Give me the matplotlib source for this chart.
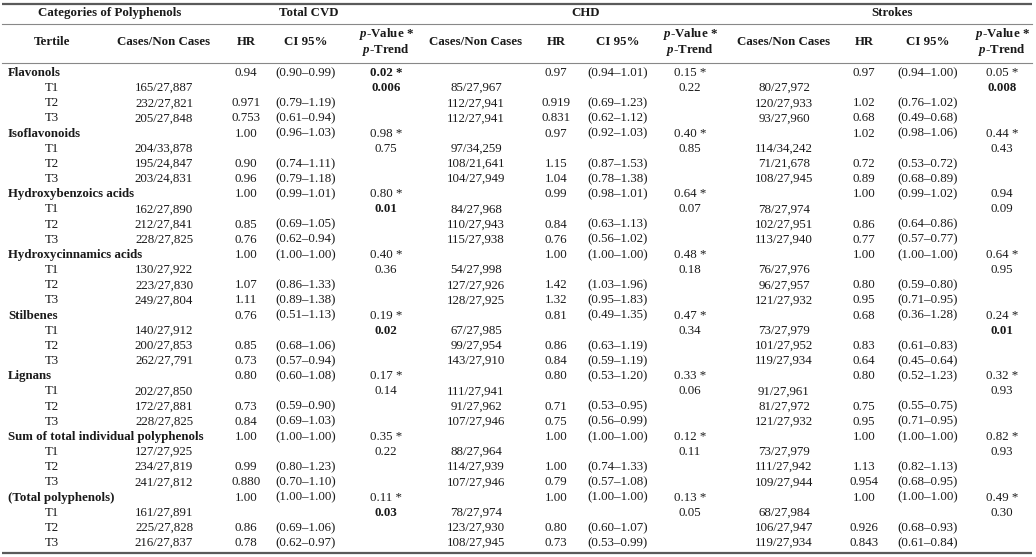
import matplotlib
matplotlib.use("Agg")
import matplotlib.pyplot as plt

plt.rcParams['font.family'] = ['Liberation Serif', 'DejaVu Serif']
plt.rcParams['mathtext.fontset'] = 'custom'
plt.rcParams['mathtext.rm'] = 'Liberation Serif'
plt.rcParams['mathtext.it'] = 'Liberation Serif:italic:bold'
plt.rcParams['mathtext.bf'] = 'Liberation Serif:bold'

# ---------------- data ----------------
categories = ["Flavonols", "Isoflavonoids", "Hydroxybenzoics acids",
              "Hydroxycinnamics acids", "Stilbenes", "Lignans",
              "Sum of total individual polyphenols", "(Total polyphenols)"]
tertiles = ["T1", "T2", "T3"]
outcomes = ["Total CVD", "CHD", "Strokes"]

# per outcome: overall HR, CI, p-value (per category)
cvd_hr_all = ["0.94", "1.00", "1.00", "1.00", "0.76", "0.80", "1.00", "1.00"]
cvd_ci_all = ["(0.90–0.99)", "(0.96–1.03)", "(0.99–1.01)", "(1.00–1.00)",
              "(0.51–1.13)", "(0.60–1.08)", "(1.00–1.00)", "(1.00–1.00)"]
cvd_p_all = ["0.02 *", "0.98 *", "0.80 *", "0.40 *", "0.19 *", "0.17 *", "0.35 *", "0.11 *"]
cvd_trend = ["0.006", "0.75", "0.01", "0.36", "0.02", "0.14", "0.22", "0.03"]
cvd_cases = [["165/27,887", "232/27,821", "205/27,848"],
             ["204/33,878", "195/24,847", "203/24,831"],
             ["162/27,890", "212/27,841", "228/27,825"],
             ["130/27,922", "223/27,830", "249/27,804"],
             ["140/27,912", "200/27,853", "262/27,791"],
             ["202/27,850", "172/27,881", "228/27,825"],
             ["127/27,925", "234/27,819", "241/27,812"],
             ["161/27,891", "225/27,828", "216/27,837"]]
cvd_hr_t = [["0.971", "0.753"], ["0.90", "0.96"], ["0.85", "0.76"], ["1.07", "1.11"],
            ["0.85", "0.73"], ["0.73", "0.84"], ["0.99", "0.880"], ["0.86", "0.78"]]
cvd_ci_t = [["(0.79–1.19)", "(0.61–0.94)"], ["(0.74–1.11)", "(0.79–1.18)"],
            ["(0.69–1.05)", "(0.62–0.94)"], ["(0.86–1.33)", "(0.89–1.38)"],
            ["(0.68–1.06)", "(0.57–0.94)"], ["(0.59–0.90)", "(0.69–1.03)"],
            ["(0.80–1.23)", "(0.70–1.10)"], ["(0.69–1.06)", "(0.62–0.97)"]]

chd_hr_all = ["0.97", "0.97", "0.99", "1.00", "0.81", "0.80", "1.00", "1.00"]
chd_ci_all = ["(0.94–1.01)", "(0.92–1.03)", "(0.98–1.01)", "(1.00–1.00)",
              "(0.49–1.35)", "(0.53–1.20)", "(1.00–1.00)", "(1.00–1.00)"]
chd_p_all = ["0.15 *", "0.40 *", "0.64 *", "0.48 *", "0.47 *", "0.33 *", "0.12 *", "0.13 *"]
chd_trend = ["0.22", "0.85", "0.07", "0.18", "0.34", "0.06", "0.11", "0.05"]
chd_cases = [["85/27,967", "112/27,941", "112/27,941"],
             ["97/34,259", "108/21,641", "104/27,949"],
             ["84/27,968", "110/27,943", "115/27,938"],
             ["54/27,998", "127/27,926", "128/27,925"],
             ["67/27,985", "99/27,954", "143/27,910"],
             ["111/27,941", "91/27,962", "107/27,946"],
             ["88/27,964", "114/27,939", "107/27,946"],
             ["78/27,974", "123/27,930", "108/27,945"]]
chd_hr_t = [["0.919", "0.831"], ["1.15", "1.04"], ["0.84", "0.76"], ["1.42", "1.32"],
            ["0.86", "0.84"], ["0.71", "0.75"], ["1.00", "0.79"], ["0.80", "0.73"]]
chd_ci_t = [["(0.69–1.23)", "(0.62–1.12)"], ["(0.87–1.53)", "(0.78–1.38)"],
            ["(0.63–1.13)", "(0.56–1.02)"], ["(1.03–1.96)", "(0.95–1.83)"],
            ["(0.63–1.19)", "(0.59–1.19)"], ["(0.53–0.95)", "(0.56–0.99)"],
            ["(0.74–1.33)", "(0.57–1.08)"], ["(0.60–1.07)", "(0.53–0.99)"]]

str_hr_all = ["0.97", "1.02", "1.00", "1.00", "0.68", "0.80", "1.00", "1.00"]
str_ci_all = ["(0.94–1.00)", "(0.98–1.06)", "(0.99–1.02)", "(1.00–1.00)",
              "(0.36–1.28)", "(0.52–1.23)", "(1.00–1.00)", "(1.00–1.00)"]
str_p_all = ["0.05 *", "0.44 *", "0.94", "0.64 *", "0.24 *", "0.32 *", "0.82 *", "0.49 *"]
str_trend = ["0.008", "0.43", "0.09", "0.95", "0.01", "0.93", "0.93", "0.30"]
str_cases = [["80/27,972", "120/27,933", "93/27,960"],
             ["114/34,242", "71/21,678", "108/27,945"],
             ["78/27,974", "102/27,951", "113/27,940"],
             ["76/27,976", "96/27,957", "121/27,932"],
             ["73/27,979", "101/27,952", "119/27,934"],
             ["91/27,961", "81/27,972", "121/27,932"],
             ["73/27,979", "111/27,942", "109/27,944"],
             ["68/27,984", "106/27,947", "119/27,934"]]
str_hr_t = [["1.02", "0.68"], ["0.72", "0.89"], ["0.86", "0.77"], ["0.80", "0.95"],
            ["0.83", "0.64"], ["0.75", "0.95"], ["1.13", "0.954"], ["0.926", "0.843"]]
str_ci_t = [["(0.76–1.02)", "(0.49–0.68)"], ["(0.53–0.72)", "(0.68–0.89)"],
            ["(0.64–0.86)", "(0.57–0.77)"], ["(0.59–0.80)", "(0.71–0.95)"],
            ["(0.61–0.83)", "(0.45–0.64)"], ["(0.55–0.75)", "(0.71–0.95)"],
            ["(0.82–1.13)", "(0.68–0.95)"], ["(0.68–0.93)", "(0.61–0.84)"]]

blocks = [
    (cvd_cases, cvd_hr_all, cvd_ci_all, cvd_p_all, cvd_trend, cvd_hr_t, cvd_ci_t),
    (chd_cases, chd_hr_all, chd_ci_all, chd_p_all, chd_trend, chd_hr_t, chd_ci_t),
    (str_cases, str_hr_all, str_ci_all, str_p_all, str_trend, str_hr_t, str_ci_t),
]

# ---------------- layout ----------------
W, H = 1036, 557
fig = plt.figure(figsize=(W / 100, H / 100), dpi=100)
ax = fig.add_axes([0, 0, 1, 1])
ax.set_xlim(0, W)
ax.set_ylim(H, 0)
ax.axis("off")

FS = 9.3
TXT = "#1a1a1a"
x_cat = 8
x_tert = 52
# column centres per outcome: cases, HR, CI, p
col_x = [(164, 246, 306, 386), (476, 556, 618, 690), (784, 864, 928, 1002)]
group_x = [309, 586, 892]

y_h1 = 13
y_h2 = 42
y0 = 73
dy = (543 - 73) / 31


def put(x, y, s, ha="center", bold=False):
    ax.text(x, y, s, ha=ha, va="center", fontsize=FS, color=TXT,
            fontweight="bold" if bold else "normal")


def is_sig(s):
    try:
        return float(s.replace("*", "").strip()) < 0.05
    except ValueError:
        return False


# rules
ax.plot([2, 1032], [3.5, 3.5], color="#5a5a5a", lw=1.6, solid_capstyle="butt")
ax.plot([2, 1032], [24, 24], color="#888888", lw=0.8)
ax.plot([2, 1032], [62.5, 62.5], color="#888888", lw=0.8)
ax.plot([2, 1032], [552.5, 552.5], color="#5a5a5a", lw=1.6, solid_capstyle="butt")

# headers
put(110, y_h1, "Categories of Polyphenols", bold=True)
for gx, name in zip(group_x, outcomes):
    put(gx, y_h1, name, bold=True)
put(x_tert, y_h2, "Tertile", bold=True)
for cx in col_x:
    put(cx[0], y_h2, "Cases/Non Cases", bold=True)
    put(cx[1], y_h2, "HR", bold=True)
    put(cx[2], y_h2, "CI 95%", bold=True)
    put(cx[3], y_h2 - 7.5, "$p$-Value *", bold=True)
    put(cx[3], y_h2 + 7.5, "$p$-Trend", bold=True)

# body
row = 0
for ci, cat in enumerate(categories):
    y = y0 + row * dy
    put(x_cat, y, cat, ha="left", bold=True)
    for bi, (cases, hr_all, ci_all, p_all, trend, hr_t, ci_t) in enumerate(blocks):
        cx = col_x[bi]
        put(cx[1], y, hr_all[ci])
        put(cx[2], y, ci_all[ci])
        put(cx[3], y, p_all[ci], bold=is_sig(p_all[ci]))
    for ti, t in enumerate(tertiles):
        yt = y0 + (row + 1 + ti) * dy
        put(x_tert, yt, t)
        for bi, (cases, hr_all, ci_all, p_all, trend, hr_t, ci_t) in enumerate(blocks):
            cx = col_x[bi]
            put(cx[0], yt, cases[ci][ti])
            if ti == 0:
                put(cx[3], yt, trend[ci], bold=is_sig(trend[ci]))
            else:
                put(cx[1], yt, hr_t[ci][ti - 1])
                put(cx[2], yt, ci_t[ci][ti - 1])
    row += 4

fig.savefig("out.png", dpi=100)
